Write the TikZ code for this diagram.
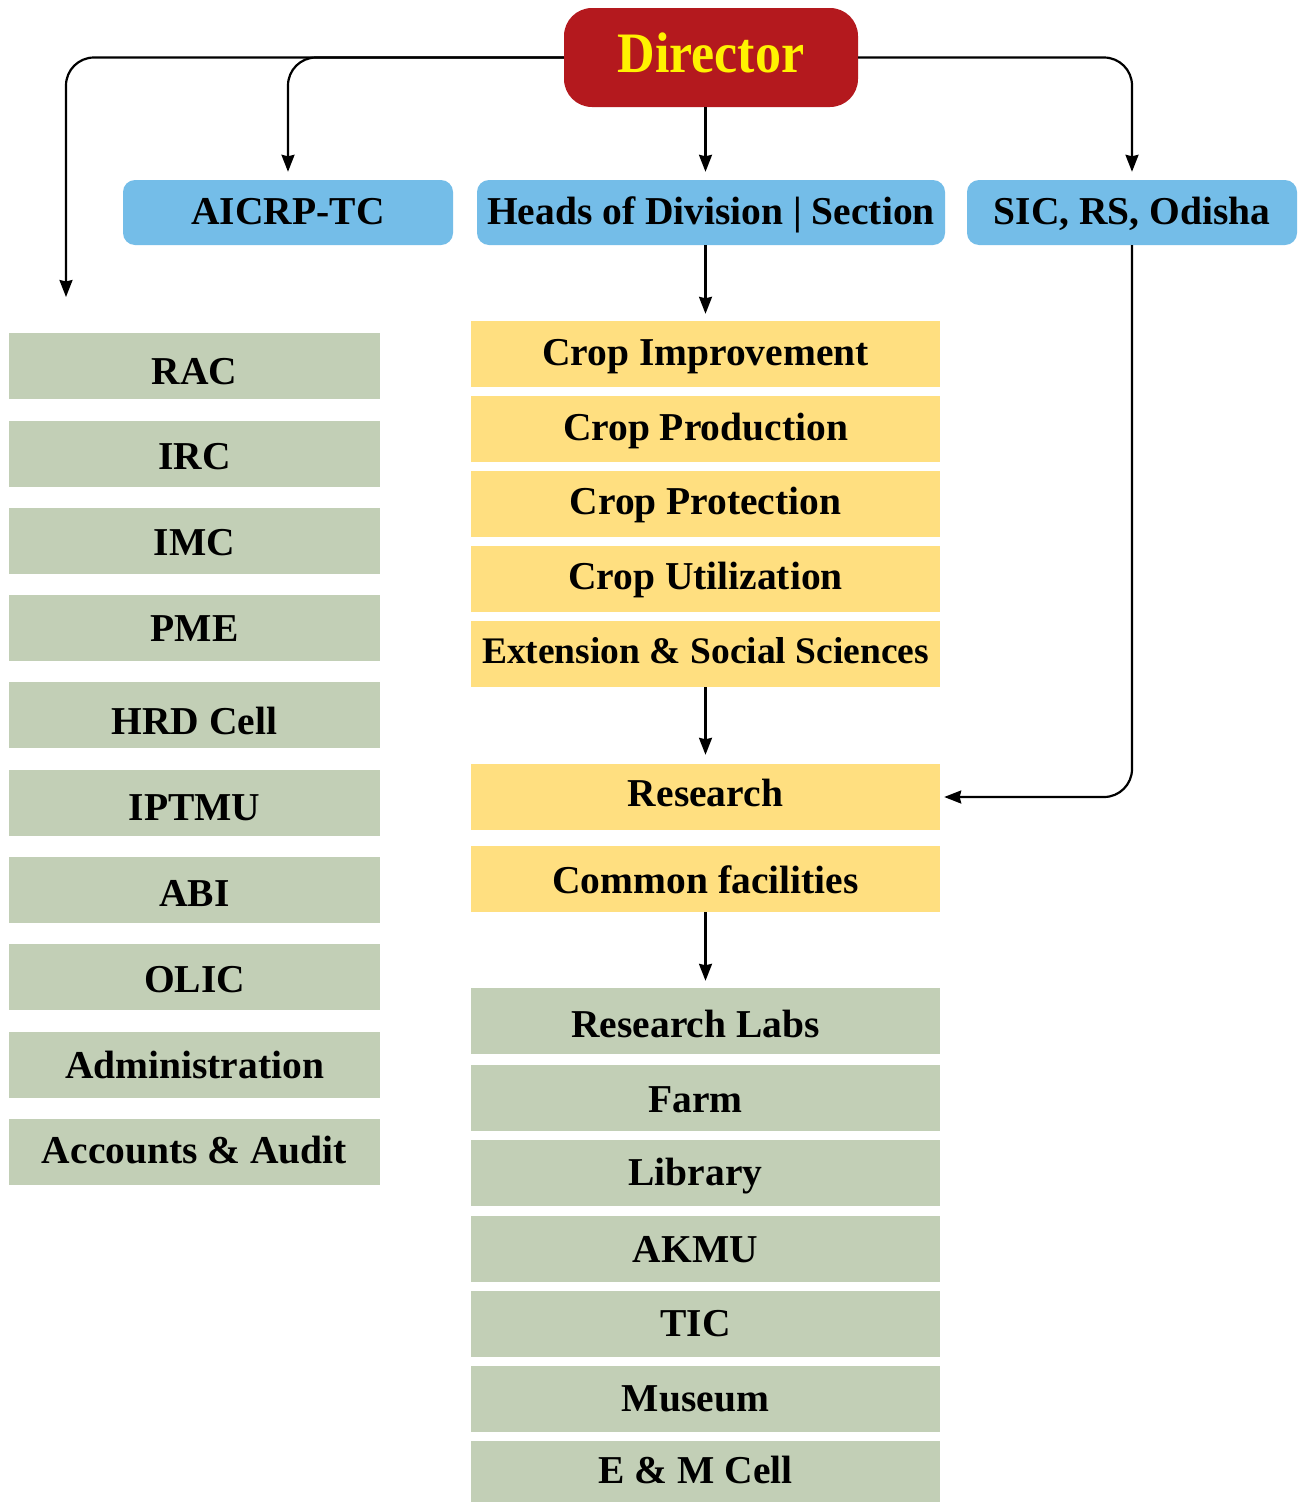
\documentclass[tikz,border=0pt]{standalone}
\usepackage{fontspec}
\setmainfont{Liberation Serif}
\usetikzlibrary{arrows.meta,calc}
\definecolor{dirred}{HTML}{B4191E}
\definecolor{diryel}{HTML}{FFF200}
\definecolor{bluebox}{HTML}{74BDE8}
\definecolor{yelbox}{HTML}{FFDF80}
\definecolor{grnbox}{HTML}{C2CFB6}
\begin{document}
\begin{tikzpicture}[x=1pt,y=-1pt,
  base/.style={inner sep=0pt, font=\fontsize{39.5}{40}\selectfont\bfseries, text depth=0pt},
  dirbox/.style={base, fill=dirred, text=diryel, rounded corners=28pt, minimum width=294pt, minimum height=99pt, font=\fontsize{52}{54}\selectfont\bfseries},
  bbox/.style={base, fill=bluebox, rounded corners=12pt, minimum height=65pt},
  lbox/.style={base, fill=grnbox, minimum width=371pt, minimum height=66pt},
  ybox/.style={base, fill=yelbox, minimum width=469pt, minimum height=66pt},
  rbox/.style={base, fill=grnbox, minimum width=469pt, minimum height=66pt},
  th/.style={text height=#1},
  arr/.style={line width=2.2pt, -{Stealth[length=17pt,width=13pt,inset=1.5pt]}, rounded corners=28pt}
]
\useasboundingbox[fill=white] (0,0) rectangle (1303,1502);

% top
\node[dirbox, th=29pt] (dir) at (711,57.5) {\scalebox{1}[1.1]{Director}};
\node[bbox, th=24pt, minimum width=330pt] (aicrp) at (288,212.5) {AICRP-TC};
\node[bbox, th=24pt, minimum width=468pt] (heads) at (711,212.5) {Heads of Division | Section};
\node[bbox, th=24pt, minimum width=330pt] (sic) at (1132,212.5) {SIC, RS, Odisha};

% left column
\node[lbox, th=36pt] (rac)   at (194.5,366)  {RAC};
\node[lbox, th=30pt] (irc)   at (194.5,454)  {IRC};
\node[lbox, th=28pt] (imc)   at (194.5,541)  {IMC};
\node[lbox, th=26pt] (pme)   at (194.5,628)  {PME};
\node[lbox, th=38pt] (hrd)   at (194.5,715)  {HRD Cell};
\node[lbox, th=34pt] (iptmu) at (194.5,803)  {IPTMU};
\node[lbox, th=32pt] (abi)   at (194.5,890)  {ABI};
\node[lbox, th=30pt] (olic)  at (194.5,977)  {OLIC};
\node[lbox, th=27pt] (adm)   at (194.5,1065) {Administration};
\node[lbox, th=23pt] (acc)   at (194.5,1152) {Accounts \& Audit};

% middle yellow
\node[ybox, th=22pt] (ci)  at (705.5,354) {Crop Improvement};
\node[ybox, th=22pt] (cp)  at (705.5,429) {Crop Production};
\node[ybox, th=20pt] (cpr) at (705.5,504) {Crop Protection};
\node[ybox, th=20pt] (cu)  at (705.5,579) {Crop Utilization};
\node[ybox, th=19pt, font=\fontsize{37.5}{38}\selectfont\bfseries] (ext) at (705.5,654) {Extension \& Social Sciences};
\node[ybox, th=19pt] (res) at (705.5,797) {Research};
\node[ybox, th=28pt] (com) at (705.5,879) {Common facilities};

% right green
\node[rbox, th=33pt] (rl)   at (705.5,1021) {Research Labs\hspace*{20pt}};
\node[rbox, th=29pt] (farm) at (705.5,1098) {Farm\hspace*{20pt}};
\node[rbox, th=25pt] (lib)  at (705.5,1173) {Library\hspace*{20pt}};
\node[rbox, th=27pt] (akmu) at (705.5,1249) {AKMU\hspace*{20pt}};
\node[rbox, th=25pt] (tic)  at (705.5,1324) {TIC\hspace*{20pt}};
\node[rbox, th=25pt] (mus)  at (705.5,1399) {Museum\hspace*{20pt}};
\node[rbox, th=18pt] (em)   at (705.5,1474) {E \& M Cell\hspace*{20pt}};

% connectors
\coordinate (leftend) at (66,297);
\draw[arr] (dir.west) -| (leftend);
\draw[arr, shorten >=8pt] (dir.west) -| (aicrp.north);
\draw[arr, shorten >=8pt] (dir.south -| ci.north) -- (heads.north -| ci.north);
\draw[arr, shorten >=8pt] (dir.east) -| (sic.north);
\draw[arr, shorten >=7pt] (heads.south -| ci.north) -- (ci.north);
\draw[arr, shorten >=9pt] (ext.south) -- (res.north);
\draw[arr, shorten >=7pt] (com.south) -- (rl.north);
\draw[arr, shorten >=4pt] (sic.south) |- (res.east);
\end{tikzpicture}
\end{document}
